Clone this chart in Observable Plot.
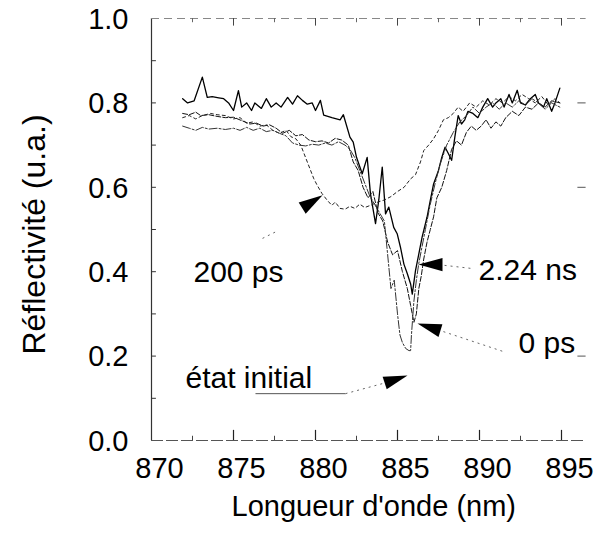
<!DOCTYPE html>
<html>
<head>
<meta charset="utf-8">
<script src="https://cdn.jsdelivr.net/npm/d3@7"></script>
<script src="https://cdn.jsdelivr.net/npm/@observablehq/plot@0.6"></script>
<style>
  html, body { margin: 0; padding: 0; background: #fff; }
  #chart { width: 600px; height: 533px; }
</style>
</head>
<body>
<div id="chart"></div>
<script>
// ---------- data ----------
const seriesNames = ["2.24 ns", "0 ps", "200 ps", "état initial"];

const wl224 = [871.9,872.2,872.6,873.1,873.4,873.7,874.1,874.4,874.7,875.0,875.3,875.5,875.8,876.1,876.3,876.7,877.0,877.3,877.6,877.9,878.3,878.6,878.9,879.2,879.5,879.8,880.0,880.3,880.5,881.0,881.5,881.7,882.1,882.3,882.5,882.85,883.15,883.35,883.66,883.86,884.07,884.27,884.47,884.77,884.98,885.18,885.39,885.6,885.8,885.9,886.1,886.3,886.5,886.8,887.0,887.2,887.5,887.7,887.9,888.1,888.3,888.5,888.7,888.9,889.1,889.3,889.6,889.9,890.2,890.5,890.8,891.0,891.3,891.5,891.8,892.0,892.3,892.5,892.8,893.1,893.4,893.6,893.9,894.1,894.4,894.6,894.9];
const r224  = [0.81,0.80,0.805,0.861,0.813,0.815,0.812,0.81,0.80,0.782,0.829,0.79,0.80,0.782,0.80,0.787,0.81,0.79,0.80,0.79,0.813,0.797,0.817,0.806,0.797,0.80,0.782,0.806,0.771,0.765,0.76,0.772,0.719,0.707,0.671,0.632,0.671,0.585,0.514,0.57,0.648,0.537,0.553,0.505,0.49,0.458,0.418,0.395,0.371,0.347,0.403,0.442,0.482,0.529,0.569,0.608,0.64,0.671,0.695,0.68,0.664,0.72,0.77,0.75,0.76,0.78,0.775,0.765,0.79,0.81,0.79,0.80,0.81,0.79,0.82,0.80,0.83,0.80,0.795,0.81,0.82,0.80,0.79,0.81,0.78,0.80,0.835];

const wl0 = [871.9,872.3,872.7,873.0,873.5,874.0,874.5,875.0,875.5,876.0,876.4,876.8,877.2,877.6,878.0,878.4,878.8,879.2,879.6,880.0,880.4,880.8,881.2,881.6,882.0,882.3,882.6,882.9,883.2,883.5,883.8,884.1,884.4,884.7,885.0,885.3,885.6,885.8,886.0,886.15,886.3,886.45,886.6,886.8,887.0,887.2,887.4,887.7,888.0,888.3,888.6,888.9,889.2,889.5,889.8,890.1,890.4,890.7,891.0,891.3,891.6,892.0,892.4,892.8,893.2,893.6,894.0,894.4,894.9];
const r0  = [0.775,0.772,0.778,0.770,0.772,0.768,0.765,0.766,0.758,0.750,0.752,0.745,0.748,0.740,0.728,0.735,0.722,0.725,0.712,0.708,0.710,0.705,0.716,0.712,0.700,0.660,0.640,0.600,0.575,0.590,0.540,0.520,0.470,0.440,0.450,0.400,0.360,0.320,0.280,0.300,0.360,0.390,0.430,0.470,0.500,0.530,0.575,0.600,0.640,0.690,0.710,0.700,0.730,0.745,0.735,0.745,0.760,0.740,0.755,0.745,0.765,0.780,0.770,0.790,0.785,0.800,0.790,0.805,0.800];

const wl200 = [871.9,872.3,872.7,873.1,873.6,874.0,874.5,875.0,875.4,875.8,876.2,876.6,877.0,877.4,877.8,878.2,878.5,878.8,879.1,879.3,879.5,879.7,879.9,880.1,880.4,880.7,881.0,881.2,881.5,881.8,882.1,882.4,882.7,883.0,883.4,883.8,884.2,884.6,885.0,885.4,885.8,886.1,886.4,886.6,886.9,887.2,887.5,887.8,888.1,888.4,888.7,889.0,889.4,889.8,890.2,890.6,891.0,891.4,891.8,892.2,892.6,893.0,893.4,893.8,894.2,894.6,894.9];
const r200  = [0.765,0.770,0.762,0.770,0.775,0.772,0.770,0.762,0.765,0.752,0.755,0.745,0.748,0.735,0.728,0.735,0.720,0.715,0.700,0.680,0.660,0.640,0.620,0.605,0.585,0.570,0.557,0.565,0.550,0.548,0.555,0.550,0.560,0.552,0.558,0.565,0.570,0.578,0.590,0.600,0.620,0.630,0.660,0.687,0.700,0.715,0.735,0.760,0.765,0.775,0.790,0.780,0.800,0.790,0.805,0.795,0.810,0.800,0.815,0.805,0.820,0.810,0.800,0.815,0.795,0.810,0.800];

const wlInit = [871.9,872.3,872.7,873.1,873.5,874.0,874.5,875.0,875.4,875.8,876.2,876.6,877.0,877.4,877.8,878.2,878.6,879.0,879.4,879.8,880.2,880.6,881.0,881.4,881.8,882.1,882.4,882.7,883.0,883.3,883.6,883.9,884.2,884.4,884.6,884.8,885.0,885.15,885.3,885.5,885.7,885.8,885.85,886.0,886.15,886.3,886.5,886.7,887.0,887.3,887.6,888.0,888.4,888.8,889.2,889.6,890.0,890.4,890.8,891.2,891.6,892.0,892.4,892.8,893.2,893.6,894.0,894.4,894.9];
const rInit  = [0.745,0.740,0.735,0.742,0.738,0.740,0.737,0.740,0.735,0.742,0.735,0.740,0.732,0.735,0.728,0.722,0.705,0.700,0.698,0.702,0.700,0.705,0.700,0.708,0.700,0.690,0.670,0.640,0.610,0.580,0.560,0.540,0.520,0.440,0.360,0.380,0.300,0.250,0.232,0.218,0.213,0.213,0.250,0.330,0.380,0.420,0.460,0.500,0.560,0.610,0.655,0.700,0.730,0.755,0.770,0.790,0.775,0.790,0.800,0.785,0.800,0.790,0.805,0.795,0.810,0.800,0.785,0.800,0.790];

// axis tick labels
const xTickLabels = [870, 875, 880, 885, 890, 895];
const yTickLabels = [0, 0.2, 0.4, 0.6, 0.8, 1.0];
const xMajorTicks = [875, 880, 885, 890, 895];
const xMinorTicks = [872.5, 877.5, 882.5, 887.5, 892.5];
const yMinorTicks = [0.1, 0.2, 0.3, 0.4, 0.5, 0.6, 0.7, 0.8, 0.9];
const yRightTicks = [0.2, 0.6, 0.8];

// annotations
const annText = ["200 ps", "2.24 ns", "0 ps", "état initial"];
const annX    = [872.56, 889.94, 892.38, 872.07];
const annY    = [0.398, 0.403, 0.230, 0.147];
const arrowX  = [880.43, 886.28, 886.22, 885.61];
const arrowY  = [0.581, 0.417, 0.277, 0.154];
const arrowAngle = [-32, 180, 197, -18];
const leadX1 = [876.77, 887.87, 887.80, 876.34, 881.83];
const leadY1 = [0.479, 0.415, 0.258, 0.111, 0.111];
const leadX2 = [877.60, 889.45, 891.59, 881.83, 884.10];
const leadY2 = [0.495, 0.408, 0.209, 0.111, 0.135];
const leadSolid = [false, false, false, true, false];

// ---------- build tables ----------
const seriesData = [
  {name: seriesNames[0], wl: wl224, r: r224},
  {name: seriesNames[1], wl: wl0, r: r0},
  {name: seriesNames[2], wl: wl200, r: r200},
  {name: seriesNames[3], wl: wlInit, r: rInit}
];
const rows = seriesData.flatMap(s => s.wl.map((w, i) => ({series: s.name, nm: w, r: s.r[i]})));
const styles = {
  "2.24 ns":      {stroke: "#000", strokeWidth: 1.3, strokeDasharray: null},
  "0 ps":         {stroke: "#111", strokeWidth: 1.0, strokeDasharray: "5,2"},
  "200 ps":       {stroke: "#222", strokeWidth: 1.0, strokeDasharray: "3,3"},
  "état initial": {stroke: "#333", strokeWidth: 1.0, strokeDasharray: "8,2,2,2"}
};
const ann = annText.map((t, i) => ({t, x: annX[i], y: annY[i]}));
const arrows = arrowX.map((x, i) => ({x, y: arrowY[i], a: arrowAngle[i]}));
const leaders = leadX1.map((x1, i) => ({x1, y1: leadY1[i], x2: leadX2[i], y2: leadY2[i], solid: leadSolid[i]}));

const wedge = {
  draw(context, size) {
    const r = Math.sqrt(size / Math.PI);
    context.moveTo(0, 0);
    context.lineTo(-2 * r, -0.55 * r);
    context.lineTo(-2 * r, 0.55 * r);
    context.closePath();
  }
};

const FONT = "'Liberation Sans', Arial, Helvetica, sans-serif";

const chart = Plot.plot({
  width: 600,
  height: 533,
  marginLeft: 151,
  marginRight: 14.4,
  marginTop: 18,
  marginBottom: 93,
  style: {fontFamily: FONT, fontSize: "29px", color: "#000", background: "#fff", overflow: "visible"},
  x: {domain: [870, 896.5]},
  y: {domain: [0, 1]},
  marks: [
    // frame
    Plot.ruleX([870], {stroke: "#333", strokeWidth: 1.2}),
    Plot.ruleY([0], {stroke: "#555", strokeWidth: 1.2, strokeDasharray: "12,3"}),
    Plot.ruleY([1], {stroke: "#888", strokeWidth: 1, strokeDasharray: "8,5"}),
    // inward tick marks
    Plot.ruleX(xMajorTicks, {x: d => d, y1: 0, y2: 0.024, stroke: "#222", strokeWidth: 1.2}),
    Plot.ruleX(xMinorTicks, {x: d => d, y1: 0, y2: 0.01, stroke: "#444"}),
    Plot.ruleX(xMajorTicks, {x: d => d, y1: 1, y2: 0.982, stroke: "#444"}),
    Plot.ruleX(xMinorTicks, {x: d => d, y1: 1, y2: 0.99, stroke: "#666"}),
    Plot.ruleY(yMinorTicks, {y: d => d, x1: 870, x2: 870.3, stroke: "#333"}),
    Plot.ruleY(yRightTicks, {y: d => d, x1: 896.0, x2: 896.5, stroke: "#555"}),
    // axes (labels only)
    Plot.axisX({ticks: xTickLabels, tickSize: 0, tickPadding: 17, dx: 8, label: null, tickFormat: d3.format("d")}),
    Plot.axisY({ticks: yTickLabels, tickSize: 0, tickPadding: 23, dy: 1, label: null, tickFormat: d3.format(".1f")}),
    // titles
    Plot.text(["Longueur d'onde (nm)"], {frameAnchor: "bottom", text: d => d, dy: 75, dx: 5, fontSize: 29, fill: "#000"}),
    Plot.text(["Réflectivité (u.a.)"], {frameAnchor: "left", text: d => d, textAnchor: "middle", rotate: -90, dx: -117, dy: 5, fontSize: 32, fill: "#000"}),
    // curves
    ...seriesNames.map(name => Plot.line(rows.filter(d => d.series === name), {x: "nm", y: "r", ...styles[name], strokeLinejoin: "round"})),
    // leaders
    Plot.link(leaders.filter(d => !d.solid), {x1: "x1", y1: "y1", x2: "x2", y2: "y2", stroke: "#666", strokeWidth: 1, strokeDasharray: "2,4"}),
    Plot.link(leaders.filter(d => d.solid), {x1: "x1", y1: "y1", x2: "x2", y2: "y2", stroke: "#555", strokeWidth: 1}),
    // arrowheads
    Plot.dot(arrows, {x: "x", y: "y", rotate: "a", symbol: wedge, r: 12, fill: "#000", stroke: "none"}),
    // annotation labels
    Plot.text(ann, {x: "x", y: "y", text: "t", textAnchor: "start", fontSize: 30, fill: "#000"})
  ]
});
document.getElementById("chart").appendChild(chart);
</script>
</body>
</html>
